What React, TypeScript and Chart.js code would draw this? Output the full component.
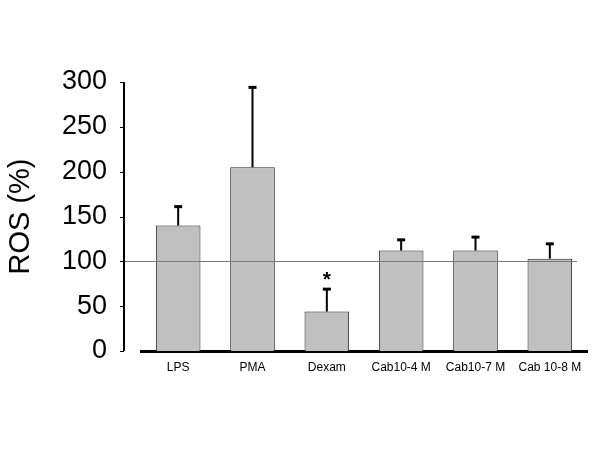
import React, { useEffect, useRef } from "react";
import { Chart, registerables } from "chart.js";

Chart.register(...registerables);

const categories = ["LPS", "PMA", "Dexam", "Cab10-4 M", "Cab10-7 M", "Cab 10-8 M"];
const rosMeans = [140, 205, 44, 112, 112, 103];
const rosUpper = [161, 294, 69, 124, 127, 119.5];
const significance = ["", "", "*", "", "", ""];
const yTicks = [0, 50, 100, 150, 200, 250, 300];
const referenceValue = 100;

const FONT = "'Liberation Sans', Arial, sans-serif";

export default function App() {
  const canvasRef = useRef<HTMLCanvasElement | null>(null);

  useEffect(() => {
    const canvas = canvasRef.current;
    if (!canvas) return;

    const overlay = {
      id: "overlay",
      afterDatasetsDraw(chart: any) {
        const ctx = chart.ctx;
        const yScale = chart.scales.y;
        const area = chart.chartArea;
        const meta = chart.getDatasetMeta(0);
        const axisX = area.left - 17;

        // reference line at 100
        ctx.save();
        const yRef = yScale.getPixelForValue(referenceValue);
        ctx.strokeStyle = "#7a7a7a";
        ctx.lineWidth = 1;
        ctx.beginPath();
        ctx.moveTo(axisX, Math.round(yRef) + 0.5);
        ctx.lineTo(area.right - 10, Math.round(yRef) + 0.5);
        ctx.stroke();

        // error bars
        ctx.strokeStyle = "#000";
        meta.data.forEach((bar: any, i: number) => {
          const yTop = yScale.getPixelForValue(rosUpper[i]);
          ctx.lineWidth = 2;
          ctx.beginPath();
          ctx.moveTo(bar.x, bar.y);
          ctx.lineTo(bar.x, yTop);
          ctx.stroke();
          ctx.lineWidth = 3;
          ctx.beginPath();
          ctx.moveTo(bar.x - 4, yTop);
          ctx.lineTo(bar.x + 4, yTop);
          ctx.stroke();
          if (significance[i]) {
            ctx.fillStyle = "#000";
            ctx.font = `bold 21px ${FONT}`;
            ctx.textAlign = "center";
            ctx.textBaseline = "middle";
            ctx.fillText(significance[i], bar.x, yTop - 9);
          }
        });

        // y axis line with small ticks (detached from x axis)
        ctx.lineWidth = 2;
        ctx.beginPath();
        ctx.moveTo(axisX, yScale.getPixelForValue(yTicks[yTicks.length - 1]));
        ctx.lineTo(axisX, yScale.getPixelForValue(yTicks[0]));
        ctx.stroke();
        ctx.lineWidth = 1;
        yTicks.forEach((v) => {
          const y = Math.round(yScale.getPixelForValue(v)) + 0.5;
          ctx.beginPath();
          ctx.moveTo(axisX - 4, y);
          ctx.lineTo(axisX, y);
          ctx.stroke();
        });
        ctx.restore();
      },
    };

    const chart = new Chart(canvas, {
      type: "bar",
      data: {
        labels: categories,
        datasets: [
          {
            data: rosMeans,
            backgroundColor: "#c0c0c0",
            borderColor: "#222",
            borderWidth: 1,
            barPercentage: 0.6,
            categoryPercentage: 1,
          },
        ],
      },
      options: {
        responsive: false,
        animation: false,
        layout: { padding: { top: 82, right: 13, bottom: 0, left: 0 } },
        plugins: { legend: { display: false }, tooltip: { enabled: false } },
        scales: {
          x: {
            grid: { display: false, drawTicks: false },
            border: { display: true, width: 3, color: "#000" },
            ticks: {
              color: "#000",
              font: { family: FONT, size: 12 },
              padding: 9,
              maxRotation: 0,
              autoSkip: false,
            },
            afterFit: (scale: any) => {
              scale.height = 99;
            },
          },
          y: {
            min: 0,
            max: 300,
            afterBuildTicks: (scale: any) => {
              scale.ticks = yTicks.map((v) => ({ value: v }));
            },
            grid: { display: false, drawTicks: false },
            border: { display: false },
            ticks: {
              color: "#000",
              font: { family: FONT, size: 27 },
              padding: 34,
            },
            title: {
              display: true,
              text: "ROS (%)",
              color: "#000",
              font: { family: FONT, size: 29 },
              padding: { top: 4, bottom: 0 },
            },
            afterFit: (scale: any) => {
              scale.width = 141;
            },
          },
        },
      },
      plugins: [overlay],
    });

    return () => chart.destroy();
  }, []);

  return (
    <div style={{ position: "absolute", left: 0, top: 0, width: 600, height: 450, background: "#fff" }}>
      <canvas ref={canvasRef} width={600} height={450} />
    </div>
  );
}
